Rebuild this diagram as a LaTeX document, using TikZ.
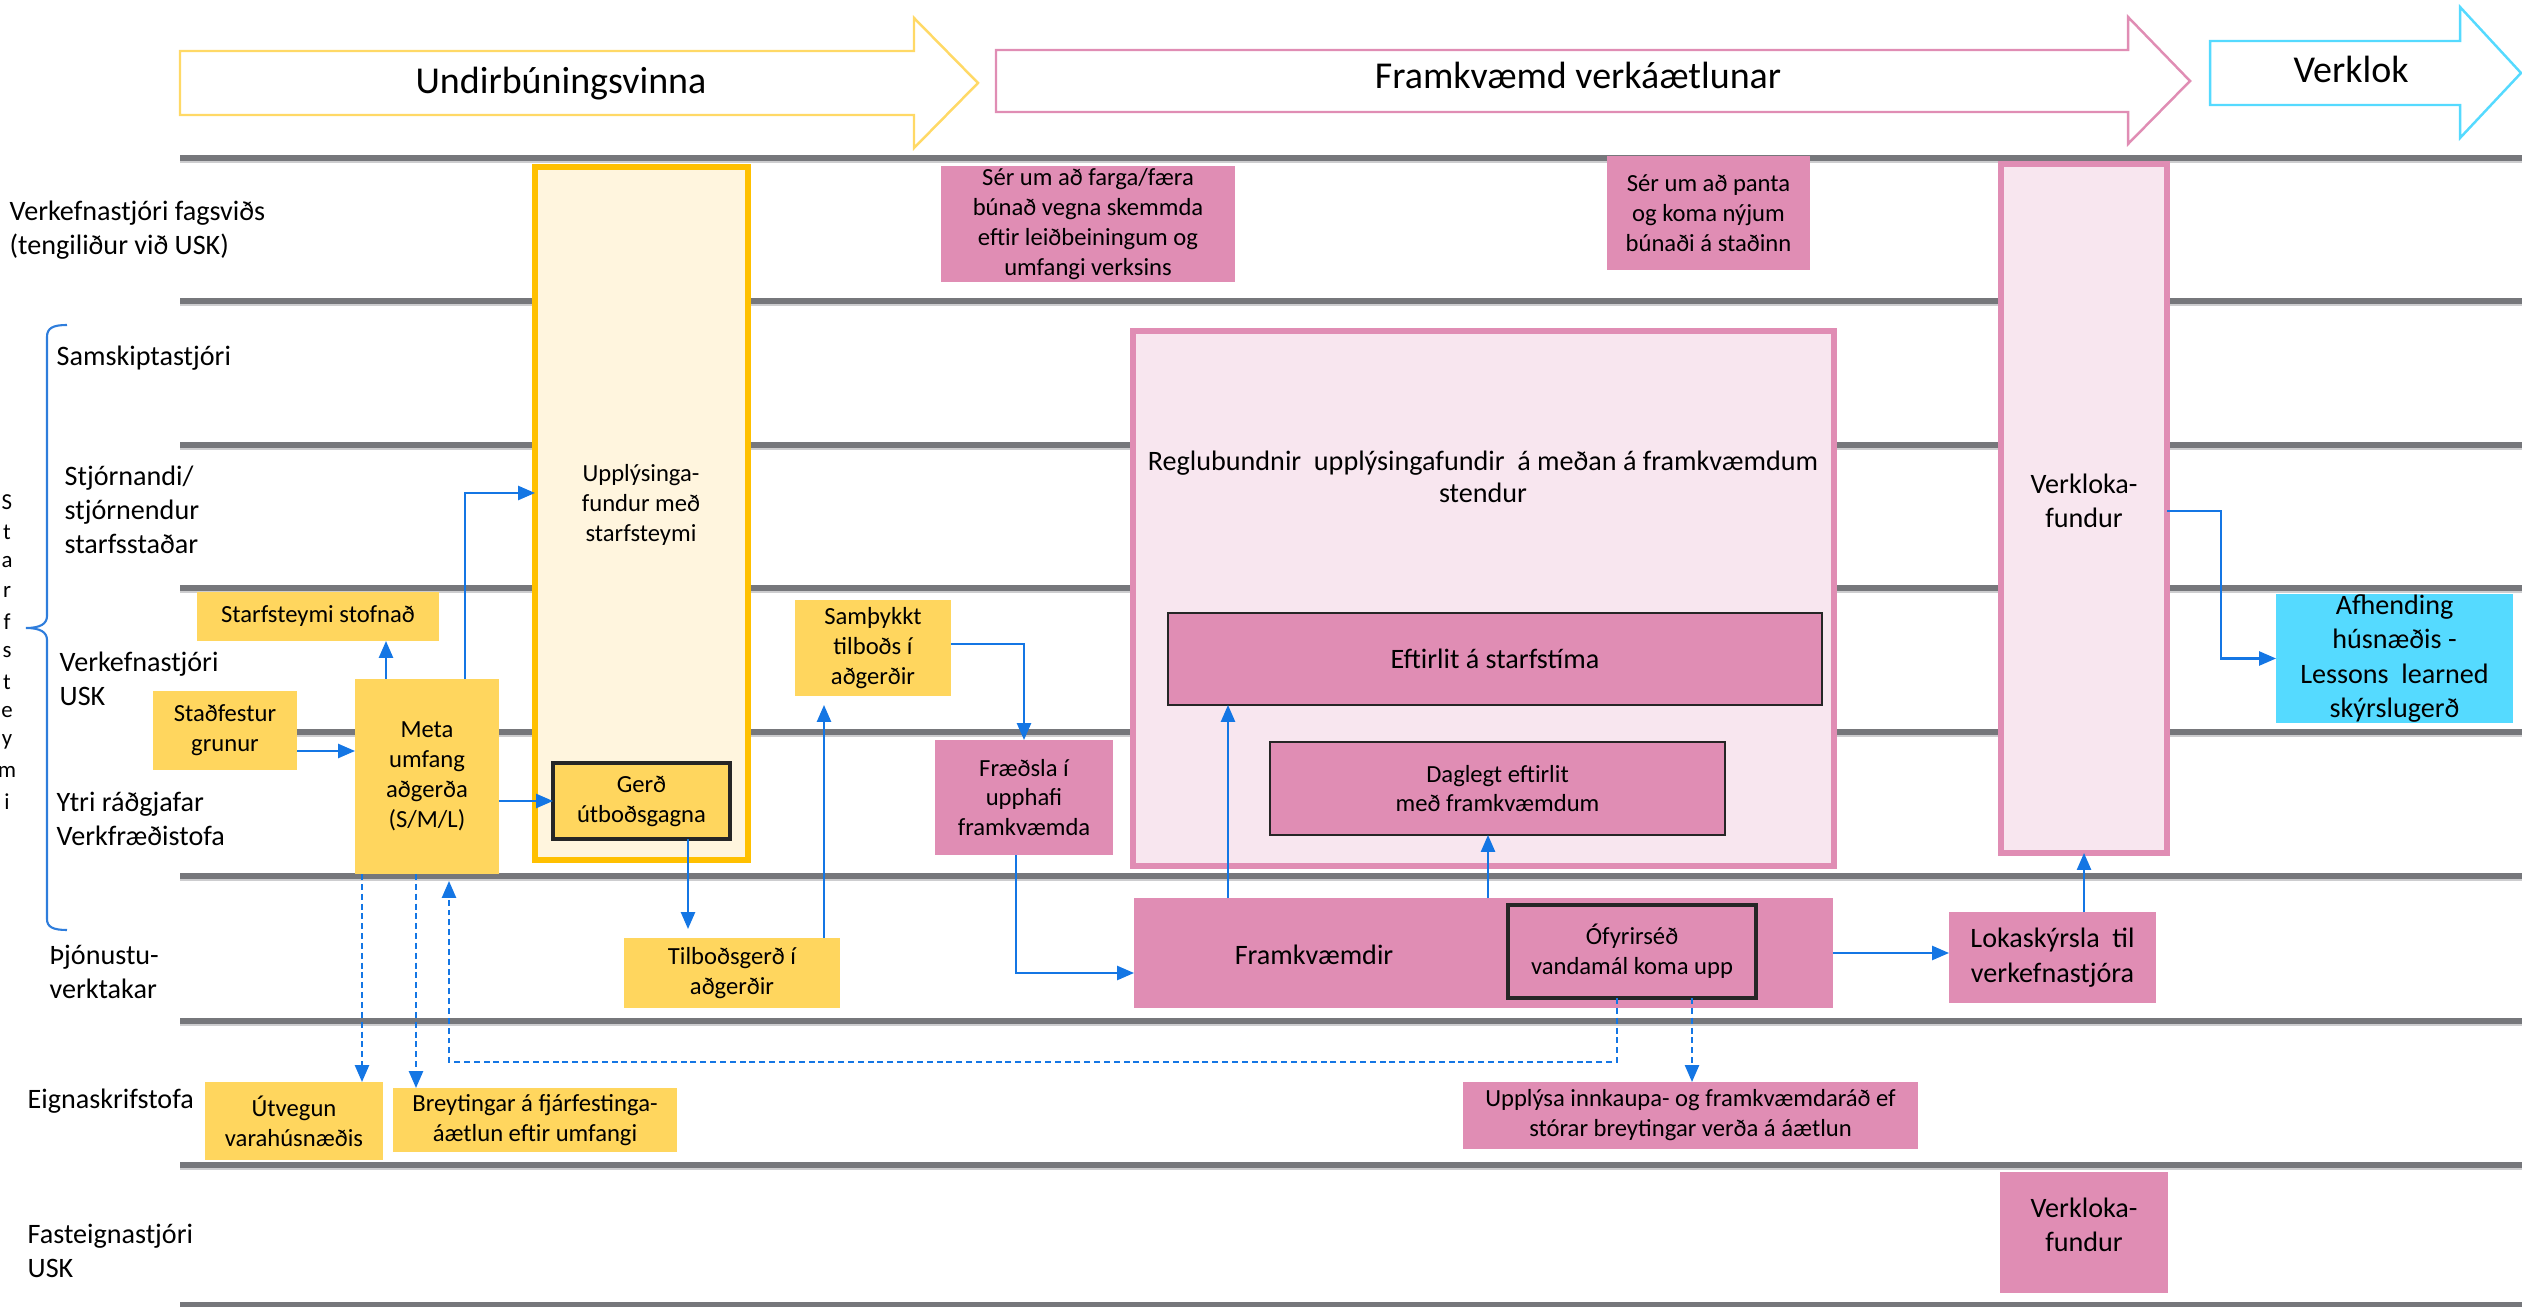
\documentclass[tikz,border=0pt]{standalone}
\usepackage{fontspec}
\setmainfont{Carlito}
\usetikzlibrary{arrows.meta}

\definecolor{laneGray}{RGB}{118,119,123}
\definecolor{laneLight}{RGB}{205,205,207}
\definecolor{ylw}{RGB}{255,214,94}
\definecolor{ylwLight}{RGB}{255,245,222}
\definecolor{ylwEdge}{RGB}{255,192,0}
\definecolor{ylwArrow}{RGB}{255,217,102}
\definecolor{pnk}{RGB}{224,141,180}
\definecolor{pnkLight}{RGB}{248,230,239}
\definecolor{cyn}{RGB}{85,218,255}
\definecolor{flow}{RGB}{20,118,228}
\definecolor{braceBlue}{RGB}{46,125,220}
\definecolor{ink}{RGB}{38,38,38}

% text sizes
\newcommand\smalltxt{\fontsize{7}{8.5}\selectfont}
\newcommand\boxtxt{\fontsize{8}{9.8}\selectfont}
\newcommand\lanetxt{\fontsize{8}{9.7}\selectfont}
\newcommand\phasetxt{\fontsize{10.8}{13}\selectfont}
\newcommand\lettertxt{\fontsize{6.5}{7}\selectfont}

\begin{document}
\begin{tikzpicture}[x=0.01cm,y=-0.01cm,
  lane/.style={draw=laneGray,line width=1.5pt},
  laneshade/.style={draw=laneLight,line width=0.6pt},
  cell/.style={inner sep=0pt,outer sep=0pt,align=center,font=\smalltxt,text=black},
  sz/.style 2 args={minimum width=#1*0.01cm,minimum height=#2*0.01cm},
  wide/.style={font=\boxtxt},
  ybox/.style={cell,fill=ylw},
  pbox/.style={cell,fill=pnk},
  framed/.style={draw=ink,line width=1pt},
  thinframe/.style={draw=ink,line width=0.6pt},
  lanelabel/.style={anchor=west,align=left,font=\lanetxt,inner sep=0pt},
  arr/.style={draw=flow,line width=0.6pt,-{Triangle[length=4.8pt,width=4pt]}},
  dsh/.style={arr,dash pattern=on 1.7pt off 1.1pt},
  phasebody/.style={line width=0.7pt,fill=white},
]
\useasboundingbox (0,0) rectangle (2522,1307);

% ---- phase arrows along the top
\draw[phasebody,draw=ylwArrow] (180,51) -- (914,51) -- (914,18) -- (978,83) -- (914,148) -- (914,115) -- (180,115) -- cycle;
\draw[phasebody,draw=pnk] (996,50) -- (2128,50) -- (2128,17) -- (2190,81) -- (2128,144) -- (2128,112) -- (996,112) -- cycle;
\draw[phasebody,draw=cyn] (2210,41) -- (2460,41) -- (2460,7) -- (2521,73) -- (2460,138) -- (2460,105) -- (2210,105) -- cycle;
\node[font=\phasetxt,anchor=base,inner sep=0pt] (ph1) at (561,94) {Undirbúningsvinna};
\node[font=\phasetxt,anchor=base,inner sep=0pt] (ph2) at (1578,89) {Framkvæmd verkáætlunar};
\node[font=\phasetxt,anchor=base,inner sep=0pt] (ph3) at (2351,83) {Verklok};

% ---- swim lane separators
\foreach \yy in {158,301,445,588,732,876,1021,1165,1305}{
  \draw[laneshade] (180,\yy+3.5) -- (2522,\yy+3.5);
  \draw[lane] (180,\yy) -- (2522,\yy);
}

% ---- lane labels
\node[lanelabel] (l1) at (9,230) {Verkefnastjóri fagsviðs\\(tengiliður við USK)};
\node[lanelabel] (l2) at (56,358) {Samskiptastjóri};
\node[lanelabel] (l3) at (64,510) {Stjórnandi/\\stjórnendur\\starfsstaðar};
\node[lanelabel] (l4) at (59,679) {Verkefnastjóri\\USK};
\node[lanelabel] (l5) at (56,819) {Ytri ráðgjafar\\Verkfræðistofa};
\node[lanelabel] (l6) at (49,972) {Þjónustu-\\verktakar};
\node[lanelabel] (l7) at (27,1101) {Eignaskrifstofa};
\node[lanelabel] (l8) at (27,1251) {Fasteignastjóri\\USK};

% brace grouping the team lanes, with its vertical caption
\draw[draw=braceBlue,line width=0.6pt]
  (67,325) .. controls (53,325) and (47,328) .. (47,337) -- (47,616)
  .. controls (47,624) and (40,628) .. (26,628)
  .. controls (40,628) and (47,632) .. (47,640) -- (47,919)
  .. controls (47,927) and (53,930) .. (67,930);
\foreach \c [count=\i from 0] in {S,t,a,r,f,s,t,e,y,m,i}
  \node[font=\lettertxt,inner sep=0pt] (st\i) at (7,502+\i*30) {\c};

% ---- preparation phase
\node[cell,draw=ylwEdge,fill=ylwLight,line width=1.5pt,sz={213}{693}] (upl) at (641.5,513.5) {};
\node[cell] (uplText) at (641,505) {Upplýsinga-\\fundur með\\starfsteymi};
\node[ybox,framed,sz={177}{76}] (ger) at (641.5,801) {Gerð\\útboðsgagna};
\node[ybox,sz={242}{49}] (stofn) at (318,616.5) {Starfsteymi stofnað};
\node[ybox,sz={144}{79}] (grun) at (225,730.5) {Staðfestur\\grunur};
\node[ybox,sz={144}{195}] (meta) at (427,776.5) {Meta\\umfang\\aðgerða\\(S/M/L)};
\node[ybox,sz={216}{70}] (tilb) at (732,973) {Tilboðsgerð í\\aðgerðir};
\node[ybox,sz={178}{78}] (utv) at (294,1121) {Útvegun\\varahúsnæðis};
\node[ybox,sz={284}{64}] (breyt) at (535,1120) {Breytingar á fjárfestinga-\\áætlun eftir umfangi};
\node[ybox,sz={156}{96}] (samt) at (873,648) {Samþykkt\\tilboðs í\\aðgerðir};

% ---- execution phase
\node[pbox,sz={294}{116}] (serA) at (1088,224) {Sér um að farga/færa\\búnað vegna skemmda\\eftir leiðbeiningum og\\umfangi verksins};
\node[pbox,sz={203}{114}] (serB) at (1708.5,213) {Sér um að panta\\og koma nýjum\\búnaði á staðinn};
\node[pbox,sz={178}{115}] (fraed) at (1024,797.5) {Fræðsla í\\upphafi\\framkvæmda};
\node[cell,draw=pnk,fill=pnkLight,line width=1.6pt,sz={701}{535}] (regl) at (1483.5,598.5) {};
\node[cell,font=\fontsize{8}{9.1}\selectfont] (reglText) at (1483,477)
  {Reglubundnir\ \ upplýsingafundir\ \ á meðan á framkvæmdum\\stendur};
\node[pbox,wide,thinframe,sz={654}{92}] (eft) at (1495,659) {Eftirlit á starfstíma};
\node[pbox,thinframe,sz={455}{93}] (dagl) at (1497.5,788.5) {Daglegt eftirlit\\með framkvæmdum};
\node[pbox,sz={699}{110}] (frk) at (1483.5,953) {};
\node[cell,wide] (frkText) at (1314,955) {Framkvæmdir};
\node[pbox,framed,sz={248}{93}] (ofyr) at (1632,951.5) {Ófyrirséð\\vandamál koma upp};
\node[pbox,sz={455}{67}] (upplysa) at (1690.5,1115.5) {Upplýsa innkaupa- og framkvæmdaráð ef\\stórar breytingar verða á áætlun};

% ---- closing phase
\node[pbox,wide,sz={207}{91}] (lok) at (2052.5,957.5) {Lokaskýrsla\ \ til\\verkefnastjóra};
\node[cell,draw=pnk,fill=pnkLight,line width=1.6pt,sz={166}{689}] (vkl) at (2084,508.5) {};
\node[cell,wide] (vklText) at (2084,501) {Verkloka-\\fundur};
\node[cell,fill=cyn,wide,sz={237}{125}] (afh) at (2394.5,658.5) {Afhending\\húsnæðis -\\Lessons\ \ learned\\skýrslugerð};
\node[pbox,sz={168}{121}] (vkl2) at (2084,1232.5) {};
\node[cell,wide] (vkl2Text) at (2084,1225) {Verkloka-\\fundur};

% ---- solid flow connectors
\draw[arr] (grun.east |- 0,751) -- (meta.west |- 0,751);
\draw[arr] (386,0 |- meta.north) -- (386,0 |- stofn.south);
\draw[arr] (465,0 |- meta.north) |- (upl.west |- 0,493);
\draw[arr] (meta.east |- 0,801) -- (ger.west |- 0,801);
\draw[arr] (688,0 |- ger.south) -- (688,929);
\draw[arr] (824,0 |- tilb.north) -- (824,705);
\draw[arr] (samt.east |- 0,644) -| (fraed.north);
\draw[arr] (1016,0 |- fraed.south) |- (frk.west |- 0,973);
\draw[arr] (1228,0 |- frk.north) -- (1228,0 |- eft.south);
\draw[arr] (1488,0 |- frk.north) -- (1488,0 |- dagl.south);
\draw[arr] (frk.east |- 0,953) -- (lok.west |- 0,953);
\draw[arr] (vkl.south |- lok.north) -- (vkl.south);
\draw[arr] (vkl.east |- 0,511) -- (2221,511) |- (afh.west);

% ---- dashed connectors
\draw[dsh] (362,0 |- meta.south) -- (362,0 |- utv.north);
\draw[dsh] (416,0 |- meta.south) -- (416,0 |- breyt.north);
\draw[dsh] (1617,0 |- ofyr.south) |- (449,1062) -- (449,881);
\draw[dsh] (1692,0 |- ofyr.south) -- (1692,0 |- upplysa.north);
\end{tikzpicture}
\end{document}
